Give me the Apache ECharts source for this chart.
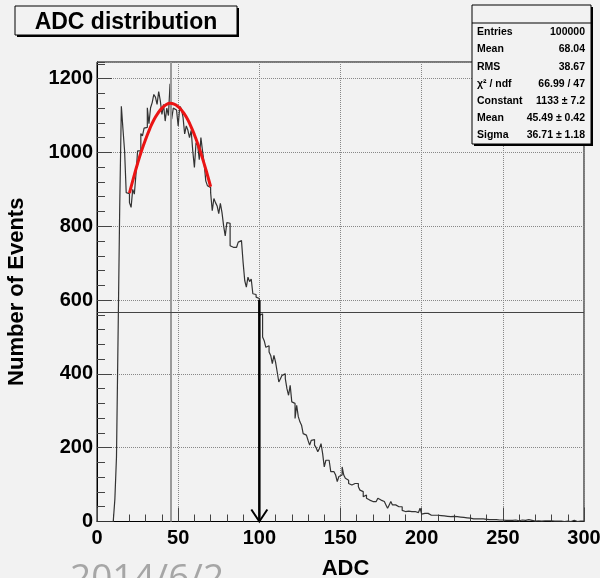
<!DOCTYPE html>
<html><head><meta charset="utf-8">
<script src="https://cdn.jsdelivr.net/npm/echarts@6/dist/echarts.min.js"></script>
<style>html,body{margin:0;padding:0;background:#f2f2f2}#c{width:600px;height:578px}</style>
</head><body><div id="c"></div>
<script>
// ADC histogram: counts per 1-ADC bin, bins 0..299
const adcCounts = [
0,0,0,0,0,0,0,0,0,0,
4,60,175,510,855,1125,1063,1004,891,888,
864,851,900,887,940,1004,1004,1051,1045,1066,
1068,1121,1078,1121,1135,1157,1150,1130,1165,1140,
1103,1130,1085,1120,1100,1186,1090,1120,1115,1117,
1072,1125,1118,1095,1050,1072,1060,1040,1060,1004,
959,1026,1020,980,1040,1004,970,923,910,905,
891,842,875,864,855,834,862,837,801,774,
810,808,747,743,738,743,748,757,761,758,
702,653,635,662,650,657,617,615,608,604,
558,563,500,490,472,476,459,450,428,450,
432,405,378,387,396,400,387,360,342,369,
324,320,279,315,284,270,261,238,234,234,
220,207,220,222,207,200,189,198,211,184,
148,166,166,166,135,135,139,126,108,122,
126,148,126,117,112,103,99,99,103,99,
103,94,85,81,67,72,63,58,58,54,
58,54,58,63,58,54,54,49,45,36,
45,54,45,45,40,40,36,40,30,27,
27,28,26,27,25,27,26,24,27,36,
20,22,21,22,20,17,16,17,15,17,
15,16,14,15,17,14,15,13,12,14,
12,13,11,12,10,11,9,10,8,9,
8,7,9,7,8,7,6,7,5,6,
6,5,7,5,4,5,5,4,6,4,
4,3,5,3,4,3,2,4,3,2,
3,4,2,3,2,5,2,3,2,1,
3,2,2,1,6,2,1,2,1,2,
1,1,2,1,4,1,1,0,2,1,
1,0,1,3,1,0,1,1,0,1
];
// Gaussian fit curve (ADC 20..70)
const fitX = [20,22.5,25,27.5,30,32.5,35,37.5,40,42.5,45,47.5,50,52.5,55,57.5,60,62.5,65,67.5,70];
const fitY = [890,931,970,1005,1036,1064,1088,1106,1120,1129,1133,1131,1124,1112,1096,1074,1048,1018,984,947,907];
const fitMean = 45.49;
const halfMax = 566.5;
const arrowX = 100;
const arrowTop = 600;
const xTickLabels = ['0','50','100','150','200','250','300'];
const yTickLabels = ['0','200','400','600','800','1000','1200'];
const statLabels = ['Entries','Mean','RMS','χ² / ndf','Constant','Mean','Sigma'];
const statValues = ['100000','68.04','38.67','66.99 / 47','1133 ± 7.2','45.49 ± 0.42','36.71 ± 1.18'];

const FONT = "'Liberation Sans', Arial, Helvetica, sans-serif";
const histData = adcCounts.map((v, i) => [i, v]);
histData.push([adcCounts.length, adcCounts[adcCounts.length - 1]]);

const chart = echarts.init(document.getElementById('c'), null, {renderer: 'canvas'});

const graphics = [
  {type: 'rect', shape: {x: 17, y: 8, width: 222, height: 29}, style: {fill: '#000'}, z: 10},
  {type: 'rect', shape: {x: 15, y: 6, width: 222, height: 29}, style: {fill: '#f2f2f2', stroke: '#000', lineWidth: 1}, z: 11},
  {type: 'text', x: 126, y: 22.5, z: 12, style: {text: 'ADC distribution', font: 'bold 23px ' + FONT, fill: '#000', textAlign: 'center', textVerticalAlign: 'middle'}},
  {type: 'rect', shape: {x: 474, y: 7, width: 119, height: 139}, style: {fill: '#000'}, z: 10},
  {type: 'rect', shape: {x: 472, y: 5, width: 119, height: 139}, style: {fill: '#f2f2f2', stroke: '#000', lineWidth: 1}, z: 11},
  {type: 'line', shape: {x1: 472, y1: 23, x2: 591, y2: 23}, style: {stroke: '#000', lineWidth: 1}, z: 12},
  {type: 'text', x: 70, y: 561, z: 12, style: {text: '2014/6/2', font: "37px 'Open Sans', 'Noto Sans', sans-serif", fill: '#a6a6a6', textAlign: 'left', textVerticalAlign: 'top'}}
];
statLabels.forEach((lab, i) => {
  const y = 32.5 + i * 17.1;
  graphics.push({type: 'text', x: 477, y: y, z: 13, style: {text: lab, font: 'bold 10.5px ' + FONT, fill: '#000', textAlign: 'left', textVerticalAlign: 'middle'}});
  graphics.push({type: 'text', x: 585, y: y, z: 13, style: {text: statValues[i], font: 'bold 10.5px ' + FONT, fill: '#000', textAlign: 'right', textVerticalAlign: 'middle'}});
});

chart.setOption({
  animation: false,
  backgroundColor: '#f2f2f2',
  grid: {left: 97, right: 16, top: 62, bottom: 56.5, show: true, borderColor: '#000', borderWidth: 1, backgroundColor: 'transparent',
    containLabel: false, outerBoundsMode: 'none'},
  xAxis: [{
    type: 'value', min: 0, max: 300, interval: 50,
    axisLine: {show: true, lineStyle: {color: '#000', width: 1}},
    axisTick: {show: true, inside: true, length: 14, lineStyle: {color: '#444'}},
    minorTick: {show: true, splitNumber: 5, length: 7, lineStyle: {color: '#444'}},
    splitLine: {show: true, lineStyle: {color: '#888', type: 'dotted', width: 1}},
    axisLabel: {fontFamily: FONT, fontWeight: 'bold', fontSize: 20, color: '#000', margin: 7,
      formatter: v => xTickLabels[Math.round(v / 50)] || ''},
    name: 'ADC', nameLocation: 'middle', nameGap: 36,
    nameTextStyle: {fontFamily: FONT, fontWeight: 'bold', fontSize: 22, color: '#000', padding: [0, 0, 0, 10]}
  }],
  yAxis: [{
    type: 'value', min: 0, max: 1245, interval: 200,
    axisLine: {show: true, lineStyle: {color: '#000', width: 1}},
    axisTick: {show: true, inside: true, length: 15, lineStyle: {color: '#444'}},
    splitLine: {show: true, lineStyle: {color: '#888', type: 'dotted', width: 1}},
    axisLabel: {fontFamily: FONT, fontWeight: 'bold', fontSize: 20, color: '#000', margin: 4, showMaxLabel: false,
      padding: [6, 0, 0, 0],
      formatter: v => (v % 200 === 0 ? (yTickLabels[v / 200] || '') : '')},
    name: 'Number of Events', nameLocation: 'middle', nameGap: 69,
    nameTextStyle: {fontFamily: FONT, fontWeight: 'bold', fontSize: 22, color: '#000'}
  }, {
    type: 'value', min: 0, max: 1245, interval: 40, position: 'left',
    axisLine: {show: false},
    axisTick: {show: true, inside: true, length: 8, lineStyle: {color: '#444'}},
    axisLabel: {show: false},
    splitLine: {show: false}
  }],
  series: [{
    type: 'line', step: 'end', data: histData, showSymbol: false, symbol: 'none',
    lineStyle: {color: '#333', width: 1.2}, z: 3,
    markLine: {
      silent: true, symbol: ['none', 'none'], label: {show: false}, animation: false,
      data: [
        {xAxis: fitMean, lineStyle: {color: '#9a9a9a', width: 2, type: 'solid'}},
        {yAxis: halfMax, lineStyle: {color: '#444', width: 1.2, type: 'solid'}}
      ]
    }
  }, {
    type: 'line', smooth: true, data: fitX.map((x, i) => [x, fitY[i]]), showSymbol: false, symbol: 'none',
    lineStyle: {color: '#ea1414', width: 3}, z: 5
  }, {
    type: 'custom', z: 6, data: [[arrowX, arrowTop]],
    renderItem: (params, api) => {
      const top = api.coord([api.value(0), api.value(1)]);
      const bot = api.coord([api.value(0), 0]);
      return {type: 'group', children: [
        {type: 'line', shape: {x1: top[0], y1: top[1], x2: bot[0], y2: bot[1]}, style: {stroke: '#000', lineWidth: 2.5}},
        {type: 'polyline', shape: {points: [[bot[0] - 8, bot[1] - 12], [bot[0], bot[1]], [bot[0] + 8, bot[1] - 12]]},
          style: {stroke: '#000', lineWidth: 2, fill: null}}
      ]};
    }
  }],
  graphic: graphics
});
</script></body></html>
